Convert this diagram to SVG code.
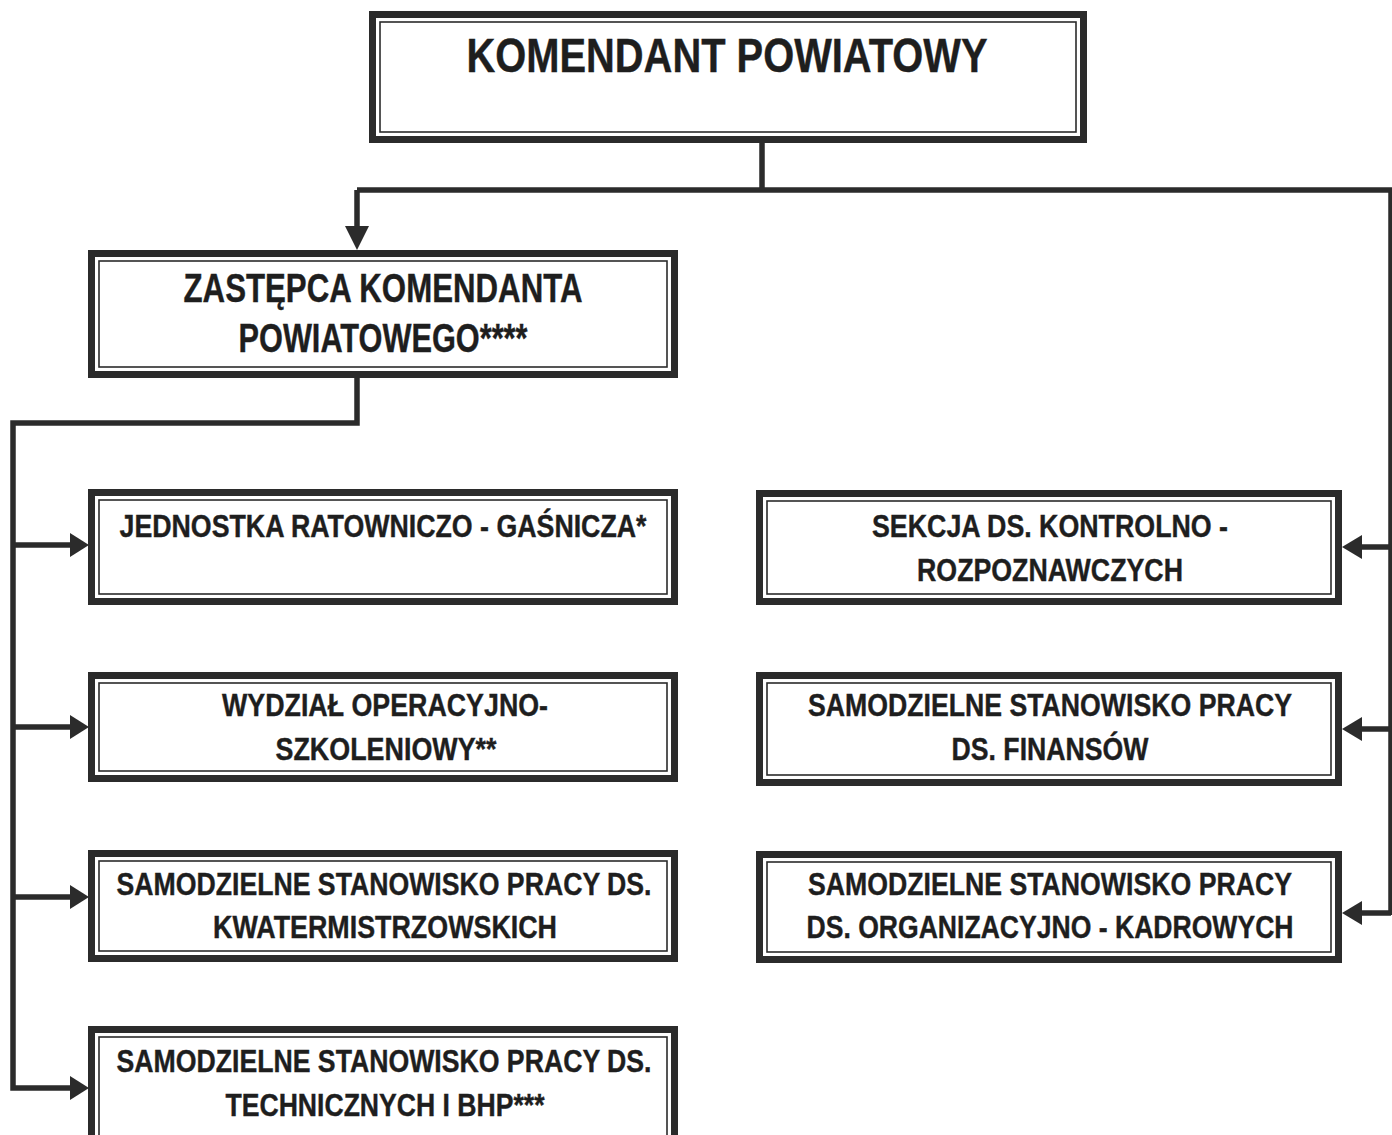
<svg xmlns="http://www.w3.org/2000/svg" width="1392" height="1135" viewBox="0 0 1392 1135">
<style>
.outer{fill:#fff;stroke:#2b2b2b;stroke-width:7}
.inner{fill:none;stroke:#2b2b2b;stroke-width:1.6}
.t{font-family:"Liberation Sans","Arial",sans-serif;font-weight:bold;fill:#1e1e1e;text-anchor:middle;stroke:#1e1e1e;stroke-width:0.4}
.s{font-size:32px}
.m{font-size:40px}
.l{font-size:48px}
.c{fill:none;stroke:#2b2b2b;stroke-width:5.5}
.h{fill:#2b2b2b}
</style>
<rect width="1392" height="1135" fill="#fff"/>
<g id="connectors">
<path class="c" d="M762,143 V190 M357,190 H1391 V915 M357,190 V228"/>
<polygon class="h" points="345,226 369,226 357,250"/>
<path class="c" d="M357,378 V423 H13 V1088 H72 M13,545 H72 M13,727 H72 M13,897 H72"/>
<polygon class="h" points="70,533 70,557 89,545"/>
<polygon class="h" points="70,715 70,739 89,727"/>
<polygon class="h" points="70,885 70,909 89,897"/>
<polygon class="h" points="70,1076 70,1100 89,1088"/>
<path class="c" d="M1391,547 H1360 M1391,729 H1360 M1391,913 H1360"/>
<polygon class="h" points="1362,535 1362,559 1342,547"/>
<polygon class="h" points="1362,717 1362,741 1342,729"/>
<polygon class="h" points="1362,901 1362,925 1342,913"/>
</g>
<g id="komendant">
<rect class="outer" x="372.5" y="14.5" width="711" height="125"/>
<rect class="inner" x="380" y="22" width="696" height="110"/>
<text class="t l" x="727" y="72" textLength="521" lengthAdjust="spacingAndGlyphs">KOMENDANT POWIATOWY</text>
</g>
<g id="zastepca">
<rect class="outer" x="91.5" y="253.5" width="583" height="121"/>
<rect class="inner" x="99" y="261" width="568" height="106"/>
<text class="t m" x="383" y="302" textLength="399" lengthAdjust="spacingAndGlyphs">ZASTĘPCA KOMENDANTA</text>
<text class="t m" x="383" y="352" textLength="289" lengthAdjust="spacingAndGlyphs">POWIATOWEGO****</text>
</g>
<g id="jrg">
<rect class="outer" x="91.5" y="492.5" width="583" height="109"/>
<rect class="inner" x="99" y="500" width="568" height="94"/>
<text class="t s" x="383" y="537" textLength="527" lengthAdjust="spacingAndGlyphs">JEDNOSTKA RATOWNICZO - GAŚNICZA*</text>
</g>
<g id="wydzial">
<rect class="outer" x="91.5" y="675.5" width="583" height="103"/>
<rect class="inner" x="99" y="683" width="568" height="88"/>
<text class="t s" x="385" y="716" textLength="326" lengthAdjust="spacingAndGlyphs">WYDZIAŁ OPERACYJNO-</text>
<text class="t s" x="386" y="760" textLength="221" lengthAdjust="spacingAndGlyphs">SZKOLENIOWY**</text>
</g>
<g id="kwatermistrz">
<rect class="outer" x="91.5" y="853.5" width="583" height="105"/>
<rect class="inner" x="99" y="861" width="568" height="90"/>
<text class="t s" x="384" y="895" textLength="535" lengthAdjust="spacingAndGlyphs">SAMODZIELNE STANOWISKO PRACY DS.</text>
<text class="t s" x="385" y="938" textLength="344" lengthAdjust="spacingAndGlyphs">KWATERMISTRZOWSKICH</text>
</g>
<g id="techniczne">
<rect class="outer" x="91.5" y="1029.5" width="583" height="115"/>
<rect class="inner" x="99" y="1037" width="568" height="100"/>
<text class="t s" x="384" y="1072" textLength="535" lengthAdjust="spacingAndGlyphs">SAMODZIELNE STANOWISKO PRACY DS.</text>
<text class="t s" x="385" y="1116" textLength="319" lengthAdjust="spacingAndGlyphs">TECHNICZNYCH I BHP***</text>
</g>
<g id="kontrolno">
<rect class="outer" x="759.5" y="493.5" width="579" height="108"/>
<rect class="inner" x="767" y="501" width="564" height="93"/>
<text class="t s" x="1050" y="537" textLength="356" lengthAdjust="spacingAndGlyphs">SEKCJA DS. KONTROLNO -</text>
<text class="t s" x="1050" y="581" textLength="266" lengthAdjust="spacingAndGlyphs">ROZPOZNAWCZYCH</text>
</g>
<g id="finanse">
<rect class="outer" x="759.5" y="675.5" width="579" height="107"/>
<rect class="inner" x="767" y="683" width="564" height="92"/>
<text class="t s" x="1050" y="716" textLength="484" lengthAdjust="spacingAndGlyphs">SAMODZIELNE STANOWISKO PRACY</text>
<text class="t s" x="1050" y="760" textLength="197" lengthAdjust="spacingAndGlyphs">DS. FINANSÓW</text>
</g>
<g id="kadry">
<rect class="outer" x="759.5" y="854.5" width="579" height="105"/>
<rect class="inner" x="767" y="862" width="564" height="90"/>
<text class="t s" x="1050" y="895" textLength="484" lengthAdjust="spacingAndGlyphs">SAMODZIELNE STANOWISKO PRACY</text>
<text class="t s" x="1050" y="938" textLength="487" lengthAdjust="spacingAndGlyphs">DS. ORGANIZACYJNO - KADROWYCH</text>
</g>
</svg>
